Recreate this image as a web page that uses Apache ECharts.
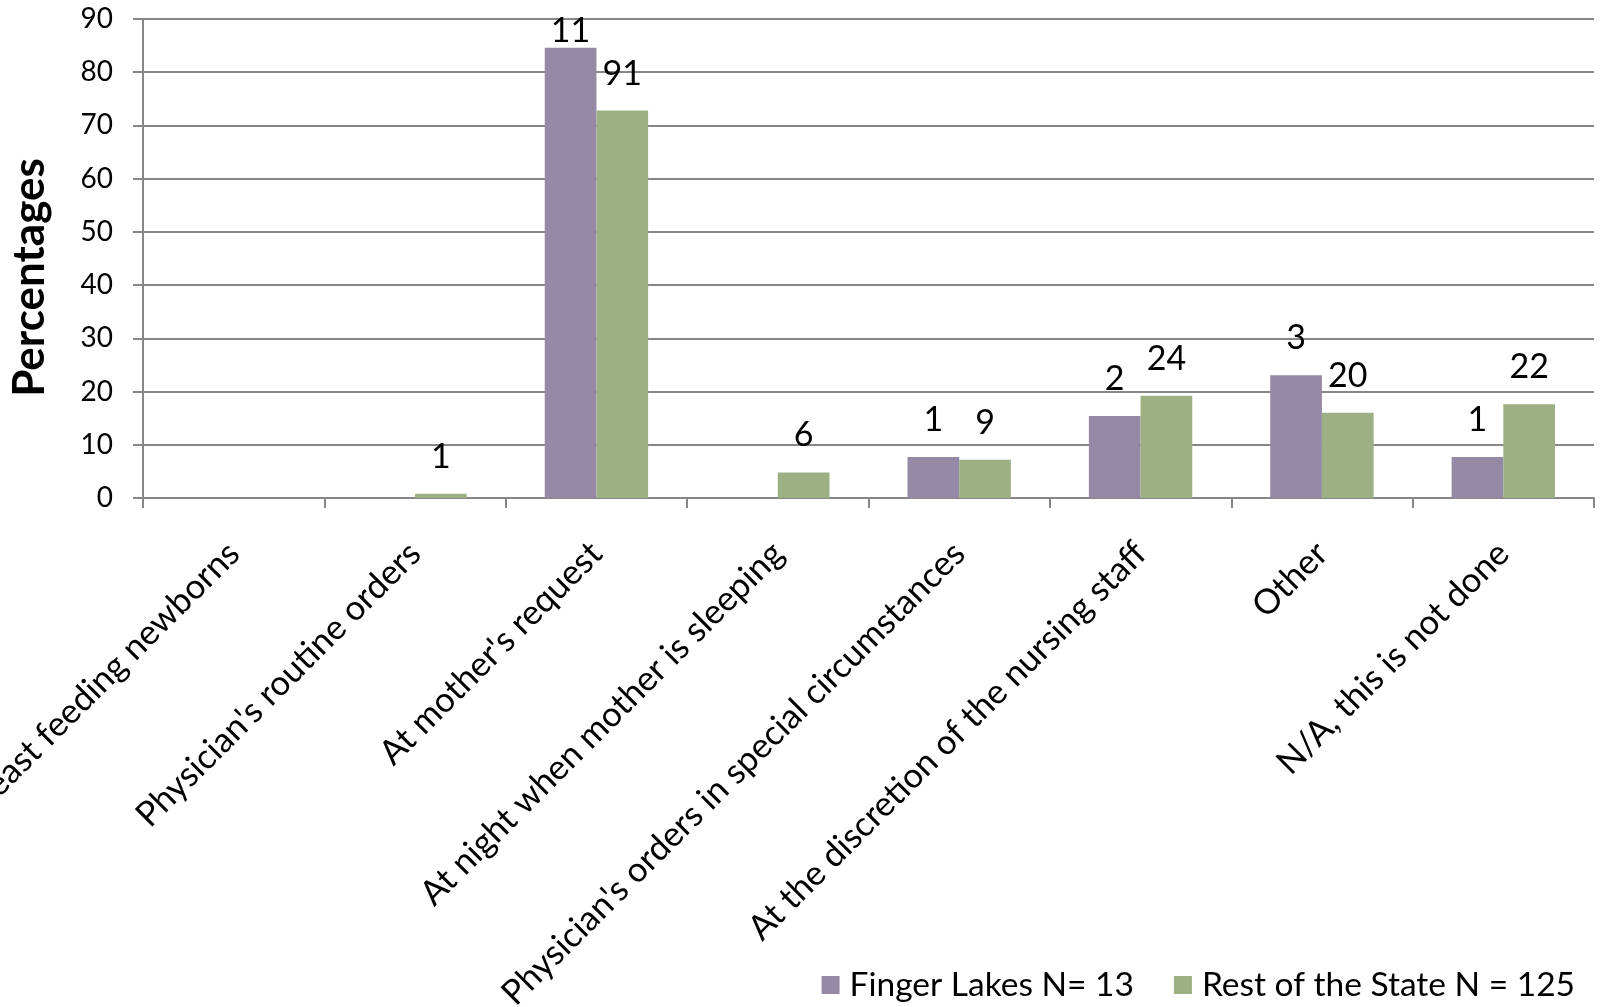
<!DOCTYPE html>
<html>
<head>
<meta charset="utf-8">
<script src="https://cdn.jsdelivr.net/npm/echarts@6/dist/echarts.min.js"></script>
<style>
  html, body { margin: 0; padding: 0; background: #fff; }
  #chart { width: 1604px; height: 1007px; }
</style>
</head>
<body>
<div id="chart"></div>
<script>
// Survey categories
const categories = [
  "Non-breast feeding newborns",
  "Physician's routine orders",
  "At mother's request",
  "At night when mother is sleeping",
  "Physician's orders in special circumstances",
  "At the discretion of the nursing staff",
  "Other",
  "N/A, this is not done"
];

// Respondent counts per category (shown as bar labels)
const fingerLakesCounts = [0, 0, 11, 0, 1, 2, 3, 1];
const restOfStateCounts = [0, 1, 91, 6, 9, 24, 20, 22];

// Group sizes
const fingerLakesN = 13;
const restOfStateN = 125;

const seriesNames = ["Finger Lakes N= 13", "Rest of the State N = 125"];
const yTicks = { min: 0, max: 90, interval: 10 };

const FONT = "Lato, 'Open Sans', sans-serif";
const GRID_GRAY = "#878787";

// Bars are percentages of each group's N; labels show the raw counts.
function toItems(counts, n) {
  return counts.map(c => {
    const pct = c / n * 100;
    const item = { value: pct, count: c };
    // keep a label that would overflow the top of the plot tucked against its bar
    if (pct > yTicks.max - 8) item.label = { distance: 0 };
    return item;
  });
}

const chart = echarts.init(document.getElementById('chart'), null, { renderer: 'canvas' });

const labelCfg = {
  show: true,
  position: 'top',
  distance: 20,
  color: '#000',
  fontFamily: FONT,
  fontSize: 34,
  formatter: p => (p.data.count ? String(p.data.count) : '')
};

chart.setOption({
  animation: false,
  backgroundColor: '#fff',
  grid: { left: 143, right: 10, top: 19, bottom: 509, containLabel: false, outerBoundsMode: 'none' },
  legend: {
    right: 24,
    bottom: 0,
    itemWidth: 18,
    itemHeight: 18,
    itemGap: 40,
    icon: 'rect',
    textStyle: { fontFamily: FONT, fontSize: 33.5, color: '#000', padding: [0, 0, 0, 5] },
    data: seriesNames
  },
  xAxis: {
    type: 'category',
    data: categories,
    boundaryGap: true,
    axisLine: { lineStyle: { color: GRID_GRAY, width: 2 } },
    axisTick: { show: true, alignWithLabel: false, length: 10, lineStyle: { color: GRID_GRAY, width: 2 } },
    axisLabel: {
      interval: 0,
      rotate: 45,
      margin: 50,
      color: '#000',
      fontFamily: FONT,
      fontSize: 34.5
    }
  },
  yAxis: {
    type: 'value',
    min: yTicks.min,
    max: yTicks.max,
    interval: yTicks.interval,
    name: 'Percentages',
    nameLocation: 'middle',
    nameGap: 91,
    nameTextStyle: { fontFamily: FONT, fontSize: 44, fontWeight: 'bold', color: '#000', padding: [0, 38, 0, 0] },
    axisLine: { show: true, lineStyle: { color: GRID_GRAY, width: 2 } },
    axisTick: { show: true, length: 10, lineStyle: { color: GRID_GRAY, width: 2 } },
    splitLine: { show: true, lineStyle: { color: GRID_GRAY, width: 2 } },
    axisLabel: { margin: 30, color: '#000', fontFamily: FONT, fontSize: 28 }
  },
  series: [
    {
      name: seriesNames[0],
      type: 'bar',
      barGap: '0%',
      barCategoryGap: '43%',
      itemStyle: { color: '#9689A6' },
      label: labelCfg,
      data: toItems(fingerLakesCounts, fingerLakesN)
    },
    {
      name: seriesNames[1],
      type: 'bar',
      barGap: '0%',
      barCategoryGap: '43%',
      itemStyle: { color: '#9DB083' },
      label: labelCfg,
      data: toItems(restOfStateCounts, restOfStateN)
    }
  ]
});
</script>
</body>
</html>
